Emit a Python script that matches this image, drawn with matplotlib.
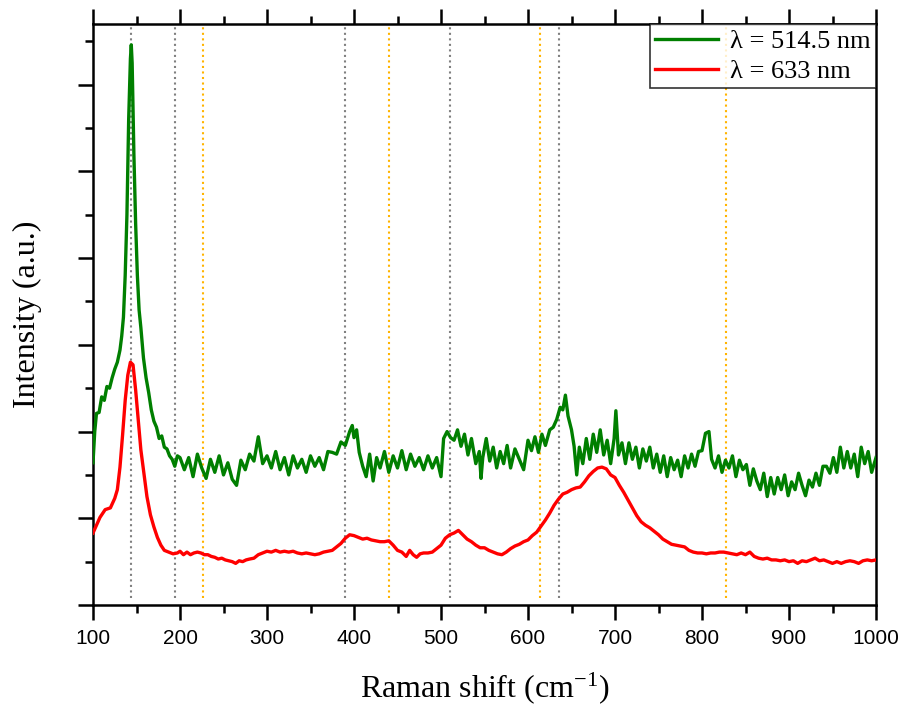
import matplotlib
matplotlib.use("Agg")
import matplotlib.pyplot as plt
from matplotlib.ticker import MultipleLocator, NullFormatter

plt.rcParams["mathtext.fontset"] = "custom"
plt.rcParams["mathtext.rm"] = "Liberation Serif"
plt.rcParams["mathtext.it"] = "Liberation Serif:italic"

# ---------------- data ----------------
green_x = [100, 102, 104, 107, 110, 113, 116, 119, 122, 125, 128, 131, 133, 135, 137, 139, 141, 143, 144, 145,
           147, 149, 151, 153, 155, 158, 161, 164, 167, 170, 173, 176, 179, 182, 185, 188, 191, 194, 197,
           200, 205, 210, 215, 220, 225, 230, 235, 240, 245, 250, 255, 260, 265, 270, 275, 280, 285, 290, 295,
           300, 305, 310, 315, 320, 325, 330, 335, 340, 345, 350, 355, 360, 365, 370, 375, 380, 385, 390, 395,
           398, 400, 403, 406, 410, 414, 418, 422, 426, 430, 435, 440, 445, 450, 455, 460, 465, 470, 475, 480,
           485, 490, 495, 500, 503, 507, 511, 515, 519, 523, 527, 531, 535, 540, 544, 546, 548, 552, 556, 560,
           564, 568, 572, 576, 580, 585, 590, 595, 600, 604, 608, 612, 616, 620, 625, 629, 633, 637, 640, 643,
           646, 650, 653, 656, 659, 663, 667, 671, 675, 679, 683, 687, 691, 695, 699, 701, 704, 708, 712, 716,
           720, 724, 728, 732, 736, 740, 744, 748, 752, 756, 760, 764, 768, 772, 776, 780, 784, 788, 792, 796,
           800, 804, 808, 811, 815, 819, 823, 827, 831, 835, 839, 843, 847, 851, 855, 859, 863, 867, 871, 875,
           879, 883, 887, 891, 895, 899, 903, 907, 911, 915, 919, 923, 927, 931, 935, 939, 943, 947, 951, 955,
           959, 963, 967, 971, 975, 979, 983, 987, 991, 995, 1000]
green_y = [164, 200, 221, 222, 240, 236, 252, 250, 262, 272, 280, 294, 310, 332, 380, 450, 560, 630, 646, 625,
           520, 440, 380, 340, 320, 285, 262, 245, 225, 212, 205, 192, 195, 182, 180, 172, 168, 160, 172,
           170, 156, 170, 148, 174, 158, 146, 168, 153, 172, 150, 164, 145, 138, 167, 156, 174, 166, 194, 163,
           172, 158, 177, 156, 170, 150, 172, 158, 168, 153, 172, 160, 170, 156, 177, 176, 174, 188, 184, 200,
           207, 193, 202, 176, 160, 148, 174, 143, 170, 158, 177, 153, 172, 158, 178, 156, 174, 160, 170, 156,
           172, 158, 170, 148, 192, 200, 193, 190, 202, 183, 197, 173, 192, 163, 177, 146, 170, 192, 166, 182,
           158, 177, 163, 184, 158, 180, 168, 156, 190, 178, 194, 176, 197, 184, 202, 205, 214, 228, 225, 242,
           218, 202, 183, 150, 182, 163, 192, 168, 197, 176, 202, 173, 190, 163, 192, 224, 173, 187, 163, 187,
           168, 182, 158, 180, 166, 182, 158, 174, 153, 172, 148, 170, 156, 167, 148, 172, 158, 174, 160, 177,
           178, 198, 200, 168, 158, 172, 153, 167, 158, 172, 148, 167, 156, 162, 138, 157, 143, 133, 152, 125,
           147, 128, 147, 133, 150, 126, 142, 133, 152, 138, 126, 144, 136, 152, 138, 160, 160, 152, 170, 153,
           182, 158, 177, 158, 174, 148, 182, 163, 177, 153, 170]

red_x = [100, 104, 108, 114, 120, 125, 128, 131, 134, 137, 140, 143, 146, 149, 152, 155, 158, 162, 166, 170,
         174, 178, 182, 187, 192, 197, 200, 204, 208, 212, 216, 220, 224, 228, 232, 236, 240, 244, 248, 252,
         256, 260, 264, 268, 272, 276, 280, 285, 290, 295, 300, 305, 310, 315, 320, 325, 330, 335, 340, 345,
         350, 355, 360, 365, 370, 375, 380, 385, 390, 395, 400, 405, 410, 415, 420, 425, 430, 435, 440, 445,
         450, 455, 460, 464, 468, 472, 476, 480, 485, 490, 495, 500, 505, 510, 515, 520, 525, 530, 535, 540,
         545, 550, 555, 560, 565, 570, 575, 580, 585, 590, 595, 600, 605, 610, 615, 620, 625, 630, 635, 640,
         645, 650, 655, 660, 665, 670, 675, 680, 685, 690, 695, 700, 705, 710, 715, 720, 725, 730, 735, 740,
         745, 750, 755, 760, 765, 770, 775, 780, 785, 790, 795, 800, 805, 810, 815, 820, 825, 830, 835, 840,
         845, 850, 855, 860, 865, 870, 875, 880, 885, 890, 895, 900, 905, 910, 915, 920, 925, 930, 935, 940,
         945, 950, 955, 960, 965, 970, 975, 980, 985, 990, 995, 1000]
red_y = [83, 92, 101, 110, 112, 123, 133, 159, 196, 236, 265, 280, 277, 248, 213, 179, 156, 125, 104, 90,
         78, 69, 63, 61, 59, 60, 62, 58, 61, 58, 60, 61, 60, 58, 58, 56, 55, 53, 54, 52,
         51, 50, 48, 51, 50, 52, 53, 54, 58, 60, 62, 61, 63, 61, 62, 61, 62, 60, 59, 60,
         59, 58, 59, 61, 62, 63, 67, 71, 77, 81, 80, 78, 76, 77, 75, 74, 73, 73, 74, 69,
         63, 61, 56, 63, 58, 55, 59, 60, 60, 61, 65, 69, 77, 81, 83, 86, 81, 76, 73, 69,
         66, 66, 63, 61, 59, 58, 61, 65, 68, 70, 73, 75, 80, 84, 91, 98, 106, 115, 122, 128,
         130, 133, 135, 136, 142, 149, 154, 158, 159, 157, 150, 147, 138, 130, 121, 112, 103, 96, 92, 89,
         85, 81, 76, 73, 70, 69, 68, 67, 63, 61, 60, 60, 59, 60, 60, 61, 61, 60, 59, 58,
         60, 58, 61, 56, 54, 53, 54, 52, 52, 51, 52, 50, 51, 48, 51, 50, 52, 54, 51, 52,
         50, 48, 50, 48, 50, 51, 50, 48, 51, 52, 51, 52]

gray_lines = [144, 194, 390, 510, 636]
orange_lines = [226, 440, 614, 828]

legend_labels = ["λ = 514.5 nm", "λ = 633 nm"]

# ---------------- figure ----------------
fig = plt.figure(figsize=(8.98, 7.10), dpi=100)
ax = fig.add_axes([93/898, 1 - 605/710, (876-93)/898, (605-24)/710])

for xv in gray_lines:
    ax.axvline(xv, ymin=0.012, ymax=1, color="#808080", ls=":", lw=1.5, zorder=1)
for xv in orange_lines:
    ax.axvline(xv, ymin=0.012, ymax=1, color="#FFB400", ls=":", lw=1.5, zorder=1)

ax.plot(green_x, green_y, color="#007F00", lw=2.4, label=legend_labels[0], zorder=3)
ax.plot(red_x, red_y, color="#FF0000", lw=2.4, label=legend_labels[1], zorder=3)

ax.set_xlim(100, 1000)
ax.set_ylim(0, 670)

ax.xaxis.set_major_locator(MultipleLocator(100))
ax.xaxis.set_minor_locator(MultipleLocator(50))
ax.yaxis.set_major_locator(MultipleLocator(100))
ax.yaxis.set_minor_locator(MultipleLocator(50))
ax.yaxis.set_major_formatter(NullFormatter())

ax.tick_params(axis="x", which="both", direction="out", top=True, bottom=True,
               labeltop=False, width=1.8)
ax.tick_params(axis="y", which="both", direction="out", left=True, right=False,
               labelleft=False, width=1.8)
ax.tick_params(which="major", length=11)
ax.tick_params(which="minor", length=6)
ax.tick_params(axis="x", labelsize=15, pad=6)

for lab in ax.get_xticklabels():
    lab.set_fontfamily("Liberation Sans")

for sp in ax.spines.values():
    sp.set_linewidth(1.8)

ax.set_xlabel("Raman shift (cm$^{\\mathrm{-1}}$)", fontsize=23, family="Liberation Serif", labelpad=16)
ax.set_ylabel("Intensity (a.u.)", fontsize=23, family="Liberation Serif", labelpad=26)

leg = ax.legend(loc="upper right", bbox_to_anchor=(1.0, 1.0), frameon=True, fancybox=False,
                edgecolor="black", borderaxespad=0, handlelength=2.4,
                prop={"family": "Liberation Serif", "size": 19}, borderpad=0.2,
                labelspacing=0.25, handletextpad=0.45)
leg.get_frame().set_linewidth(1.2)

fig.savefig("out.png", dpi=100)
